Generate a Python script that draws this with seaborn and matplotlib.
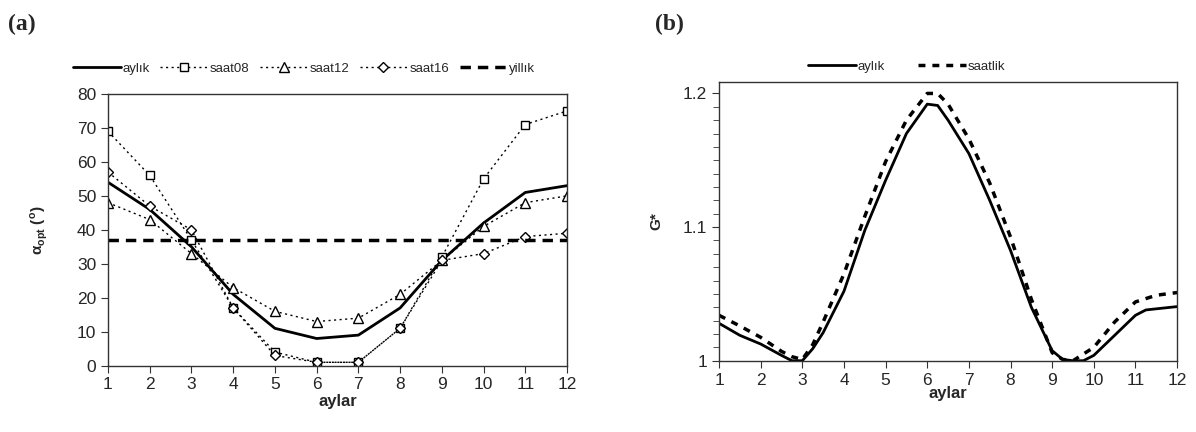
import matplotlib
matplotlib.use("Agg")
import matplotlib.pyplot as plt
import numpy as np
import pandas as pd
import seaborn as sns
from matplotlib.ticker import MultipleLocator

# --- data (a): optimum tilt angle by month
months = list(range(1, 13))
aylik = [54, 46, 35, 21, 11, 8, 9, 17, 31, 42, 51, 53]
saat08 = [69, 56, 37, 17, 4, 1, 1, 11, 32, 55, 71, 75]
saat12 = [48, 43, 33, 23, 16, 13, 14, 21, 31, 41, 48, 50]
saat16 = [57, 47, 40, 17, 3, 1, 1, 11, 31, 33, 38, 39]
yillik = 37

# --- data (b): G* curves
b_x_aylik = [1, 1.5, 2, 2.5, 2.75, 3, 3.25, 3.5, 4, 4.5, 5, 5.5, 6, 6.25, 6.5,
             7, 7.5, 8, 8.5, 9, 9.25, 9.5, 9.75, 10, 10.5, 11, 11.25, 12]
b_y_aylik = [1.028, 1.019, 1.0125, 1.004, 1.000, 1.000, 1.009, 1.021, 1.052,
             1.0975, 1.135, 1.17, 1.192, 1.191, 1.18, 1.155, 1.12, 1.0825,
             1.04, 1.0075, 1.001, 1.000, 1.000, 1.004, 1.019, 1.034, 1.038,
             1.0405]
b_x_saatlik = [1, 1.5, 2, 2.5, 2.75, 3, 3.25, 3.5, 4, 4.5, 5, 5.5, 6, 6.25,
               6.5, 7, 7.5, 8, 8.5, 9, 9.25, 9.5, 9.75, 10, 10.5, 11, 11.5, 12]
b_y_saatlik = [1.034, 1.026, 1.0175, 1.007, 1.003, 1.001, 1.012, 1.029, 1.065,
               1.108, 1.149, 1.18, 1.2, 1.2, 1.192, 1.166, 1.133, 1.0925,
               1.046, 1.006, 1.001, 1.000, 1.005, 1.01, 1.029, 1.044, 1.049,
               1.051]

sns.set_style("ticks")
plt.rcParams['font.family'] = ['Liberation Sans', 'DejaVu Sans']
plt.rcParams['mathtext.fontset'] = 'custom'
plt.rcParams['mathtext.rm'] = 'Liberation Sans'
plt.rcParams['mathtext.bf'] = 'Liberation Sans:bold'
plt.rcParams['axes.edgecolor'] = '#333333'
plt.rcParams['axes.linewidth'] = 1.0

fig = plt.figure(figsize=(11.96, 4.32), dpi=100)
ax1 = fig.add_axes([0.0903, 0.1535, 0.3838, 0.629])
ax2 = fig.add_axes([0.6012, 0.165, 0.383, 0.645])

# ---- panel (a)
df_a = pd.DataFrame({'ay': months, 'aylik': aylik, 'saat08': saat08,
                     'saat12': saat12, 'saat16': saat16})
sns.lineplot(data=df_a, x='ay', y='aylik', ax=ax1, color='black', lw=2,
             label='aylık')
mk = dict(color='black', lw=1, linestyle=(0, (1.5, 2.5)), markerfacecolor='white',
          markeredgecolor='black', markeredgewidth=1)
sns.lineplot(data=df_a, x='ay', y='saat08', ax=ax1, marker='s', markersize=6,
             label='saat08', **mk)
sns.lineplot(data=df_a, x='ay', y='saat12', ax=ax1, marker='^', markersize=7,
             label='saat12', **mk)
sns.lineplot(data=df_a, x='ay', y='saat16', ax=ax1, marker='D', markersize=5,
             label='saat16', **mk)
ax1.axhline(yillik, color='black', lw=2.5, linestyle=(0, (3, 2)), label='yillık')

ax1.set_xlim(1, 12)
ax1.set_ylim(0, 80)
ax1.set_xticks(months)
ax1.set_yticks(range(0, 81, 10))
ax1.tick_params(labelsize=12.5, length=5, color='#333333')
ax1.set_xlabel('aylar', fontsize=12, fontweight='bold', labelpad=1)
ax1.set_ylabel(r'α$_{\mathbf{opt}}$ ($^{\mathbf{o}}$)', fontsize=11,
               fontweight='bold', labelpad=19)
ax1.legend(loc='lower center', bbox_to_anchor=(0.427, 1.05), ncol=5,
           frameon=False, fontsize=9.5, handlelength=3.6, handletextpad=0.15,
           columnspacing=0.8, borderaxespad=0)

# ---- panel (b)
df_b1 = pd.DataFrame({'ay': b_x_aylik, 'G': b_y_aylik})
df_b2 = pd.DataFrame({'ay': b_x_saatlik, 'G': b_y_saatlik})
sns.lineplot(data=df_b1, x='ay', y='G', ax=ax2, color='black', lw=2,
             label='aylık')
sns.lineplot(data=df_b2, x='ay', y='G', ax=ax2, color='black', lw=2.5,
             linestyle=(0, (2, 2)), label='saatlik')
ax2.set_xlim(1, 12)
ax2.set_ylim(1, 1.2085)
ax2.set_xticks(months)
ax2.set_yticks([1, 1.1, 1.2])
ax2.set_yticklabels(['1', '1.1', '1.2'])
ax2.yaxis.set_minor_locator(MultipleLocator(0.01))
ax2.tick_params(labelsize=12.5, length=5, color='#333333')
ax2.tick_params(axis='y', which='minor', length=4, color='#333333')
ax2.set_xlabel('aylar', fontsize=12, fontweight='bold', labelpad=-1)
ax2.set_ylabel('G*', fontsize=11, fontweight='bold', labelpad=14)
ax2.legend(loc='lower center', bbox_to_anchor=(0.41, 1.015), ncol=2,
           frameon=False, fontsize=9.5, handlelength=3.6, handletextpad=0.15,
           columnspacing=2.5, borderaxespad=0)

fig.text(0.007, 0.93, '(a)', fontsize=17, fontweight='bold',
         family='Liberation Serif')
fig.text(0.548, 0.93, '(b)', fontsize=17, fontweight='bold',
         family='Liberation Serif')

fig.savefig('out.png', dpi=100)
